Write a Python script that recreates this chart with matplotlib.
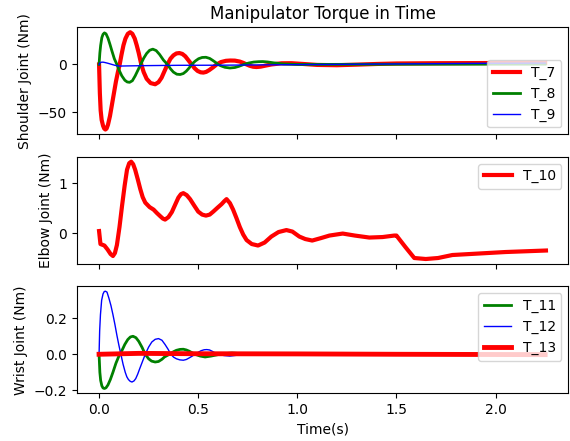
import numpy as np
import matplotlib
matplotlib.use("Agg")
import matplotlib.pyplot as plt

# shoulder joint torques
t7 = [0.0, 0.004, 0.008, 0.013, 0.02, 0.026, 0.032, 0.038, 0.045, 0.055, 0.065, 0.075, 0.085, 0.095,
      0.104, 0.113, 0.123, 0.133, 0.145, 0.157, 0.168, 0.18, 0.19, 0.2, 0.213, 0.225, 0.24, 0.26,
      0.283, 0.3, 0.315, 0.33, 0.345, 0.36, 0.375, 0.39, 0.405, 0.42, 0.435, 0.452, 0.467, 0.482,
      0.497, 0.512, 0.526, 0.54, 0.555, 0.575, 0.593, 0.615, 0.64, 0.662, 0.685, 0.71, 0.728, 0.744,
      0.76, 0.777, 0.794, 0.815, 0.84, 0.87, 0.92, 0.97, 1.03, 1.1, 1.2, 1.3, 1.4, 1.5, 1.7, 2.0, 2.25]
T_7 = [0, -30, -48, -58, -64, -67, -68, -67, -63, -54, -42, -30, -18, -8,
       0, 10, 20, 27, 32, 33.7, 32, 27, 20, 12, 0, -8, -15, -19.5,
       -20.7, -18.5, -14, -7, 0, 6, 9.5, 11.5, 11.9, 11, 8.5, 4, 0, -4,
       -6.8, -8.2, -8.5, -7.8, -6, -3, 0, 2.5, 3.8, 4.1, 4, 3, 1.6, 0,
       -1.4, -2.4, -2.7, -2.3, -1.2, 0, 1.2, 1.3, 0.5, -0.5, -0.8, -0.2, 0.5, 1.0, 1.3, 1.5, 1.6]

t8 = [0.0, 0.004, 0.008, 0.014, 0.02, 0.027, 0.035, 0.045, 0.055, 0.065, 0.077, 0.09, 0.1, 0.115,
      0.13, 0.142, 0.154, 0.168, 0.182, 0.196, 0.21, 0.225, 0.24, 0.255, 0.271, 0.288, 0.305, 0.325,
      0.345, 0.36, 0.375, 0.392, 0.409, 0.425, 0.44, 0.455, 0.467, 0.485, 0.502, 0.52, 0.539, 0.558,
      0.575, 0.59, 0.6, 0.615, 0.635, 0.66, 0.685, 0.705, 0.73, 0.755, 0.78, 0.805, 0.826, 0.85,
      0.88, 0.93, 1.0, 1.5, 2.0, 2.25]
T_8 = [0, 12, 20, 28, 31.5, 33, 32, 27.5, 21, 14, 6, 0, -5.5, -12,
       -16.5, -18.3, -18.7, -17, -12, -6, 0, 6.5, 11.5, 14.8, 16, 14.5, 10.5, 4.5,
       0, -4.5, -8, -10.2, -10.5, -9.5, -7, -3.5, 0, 3.5, 6, 7.3, 7.5, 6.3,
       4, 1.8, 0, -1.5, -3, -3.7, -3.2, -2, 0, 1.5, 2.5, 2.9, 3, 2.6,
       1.7, 0.5, 0, 0.2, 0.3, 0.3]

t9 = [0.0, 0.005, 0.01, 0.02, 0.03, 0.045, 0.06, 0.08, 0.1, 0.15, 0.25, 0.4, 0.6, 0.8, 1.0, 1.5, 2.0, 2.25]
T_9 = [0, 1.8, 2.3, 2.4, 2.0, 1.2, 0.3, -0.9, -1.7, -1.5, -1.2, -0.9, -0.8, -0.5, -0.2, 0.5, 1.2, 1.4]

# elbow joint torque
t10 = [0.0, 0.007, 0.027, 0.043, 0.058, 0.07, 0.08, 0.09, 0.103, 0.116, 0.129, 0.141, 0.152, 0.162,
       0.172, 0.182, 0.195, 0.208, 0.22, 0.233, 0.255, 0.275, 0.292, 0.308, 0.322, 0.333, 0.35, 0.367,
       0.384, 0.4, 0.413, 0.425, 0.442, 0.459, 0.48, 0.5, 0.52, 0.539, 0.558, 0.576, 0.598, 0.618,
       0.632, 0.643, 0.66, 0.676, 0.693, 0.71, 0.727, 0.744, 0.77, 0.802, 0.835, 0.869, 0.905, 0.945,
       0.975, 1.01, 1.04, 1.075, 1.12, 1.162, 1.229, 1.29, 1.363, 1.43, 1.489, 1.5, 1.545, 1.59, 1.648,
       1.71, 1.782, 1.916, 2.05, 2.254]
T_10 = [0.04, -0.22, -0.25, -0.33, -0.42, -0.46, -0.4, -0.24, 0.12, 0.55, 0.95, 1.27, 1.4, 1.43,
        1.38, 1.27, 1.08, 0.88, 0.72, 0.61, 0.52, 0.47, 0.4, 0.34, 0.29, 0.27, 0.32, 0.42,
        0.57, 0.71, 0.78, 0.8, 0.76, 0.68, 0.55, 0.43, 0.37, 0.35, 0.37, 0.43, 0.51, 0.58,
        0.64, 0.68, 0.6, 0.47, 0.3, 0.12, -0.03, -0.14, -0.22, -0.25, -0.19, -0.07, 0.02, 0.06,
        0.03, -0.07, -0.12, -0.15, -0.1, -0.05, -0.01, -0.05, -0.09, -0.08, -0.05, -0.05, -0.28, -0.5, -0.52,
        -0.5, -0.44, -0.41, -0.38, -0.35]

# wrist joint torques
t11 = [0.0, 0.004, 0.008, 0.014, 0.02, 0.027, 0.035, 0.045, 0.057, 0.07, 0.085, 0.1, 0.115, 0.13,
       0.145, 0.158, 0.171, 0.186, 0.2, 0.217, 0.233, 0.25, 0.265, 0.283, 0.3, 0.317, 0.33, 0.345,
       0.36, 0.375, 0.39, 0.408, 0.425, 0.44, 0.455, 0.47, 0.484, 0.51, 0.535, 0.565, 0.6, 0.635,
       0.67, 0.71, 0.75, 2.25]
T_11 = [0, -0.1, -0.145, -0.175, -0.187, -0.19, -0.186, -0.17, -0.14, -0.1, -0.05, -0.01, 0.02, 0.055,
        0.082, 0.096, 0.1, 0.092, 0.072, 0.038, 0, -0.025, -0.038, -0.043, -0.04, -0.028, -0.015, -0.006,
        0.003, 0.014, 0.022, 0.027, 0.028, 0.024, 0.017, 0.008, 0, -0.01, -0.015, -0.01, -0.002, 0.004,
        0.007, 0.004, 0, 0]

t12 = [0.0, 0.003, 0.007, 0.013, 0.02, 0.026, 0.032, 0.04, 0.05, 0.06, 0.07, 0.08, 0.09, 0.1,
       0.11, 0.121, 0.132, 0.14, 0.148, 0.157, 0.166, 0.176, 0.185, 0.195, 0.205, 0.219, 0.233, 0.25,
       0.266, 0.283, 0.3, 0.317, 0.333, 0.348, 0.362, 0.376, 0.39, 0.407, 0.425, 0.44, 0.455, 0.47,
       0.484, 0.5, 0.515, 0.53, 0.543, 0.557, 0.57, 0.585, 0.6, 0.63, 0.66, 0.69, 0.72, 2.25]
T_12 = [0, 0.13, 0.22, 0.3, 0.335, 0.348, 0.35, 0.345, 0.31, 0.27, 0.22, 0.165, 0.105, 0.05,
        0, -0.055, -0.1, -0.125, -0.14, -0.15, -0.154, -0.148, -0.135, -0.11, -0.08, -0.04, 0, 0.04,
        0.068, 0.083, 0.087, 0.078, 0.054, 0.028, 0, -0.016, -0.025, -0.031, -0.033, -0.029, -0.02, -0.01,
        0, 0.011, 0.02, 0.025, 0.026, 0.024, 0.017, 0.008, 0, -0.007, -0.01, -0.006, 0, 0]

t13 = [0.0, 0.2, 0.5, 1.0, 1.5, 2.25]
T_13 = [0, 0.005, 0.003, 0.002, 0.0, -0.002]

fig, axs = plt.subplots(3, 1, sharex=True, figsize=(5.7, 4.41), dpi=100)
plt.subplots_adjust(left=0.1346, right=0.997, top=0.938, bottom=0.108, hspace=0.21)

axs[0].plot(t7, T_7, color="r", lw=3, label="T_7")
axs[0].plot(t8, T_8, color="g", lw=2, label="T_8")
axs[0].plot(t9, T_9, color="b", lw=1, label="T_9")
axs[0].set_ylabel("Shoulder Joint (Nm)")
axs[0].set_title("Manipulator Torque in Time")
axs[0].legend(loc="lower right")

axs[1].plot(t10, T_10, color="r", lw=3, label="T_10")
axs[1].set_ylabel("Elbow Joint (Nm)")
axs[1].legend(loc="upper right")

axs[2].plot(t11, T_11, color="g", lw=2, label="T_11")
axs[2].plot(t12, T_12, color="b", lw=1, label="T_12")
axs[2].plot(t13, T_13, color="r", lw=3.5, label="T_13")
axs[2].set_ylabel("Wrist Joint (Nm)")
axs[2].set_xlabel("Time(s)")
axs[2].legend(loc="upper right")

plt.savefig("out.png")
